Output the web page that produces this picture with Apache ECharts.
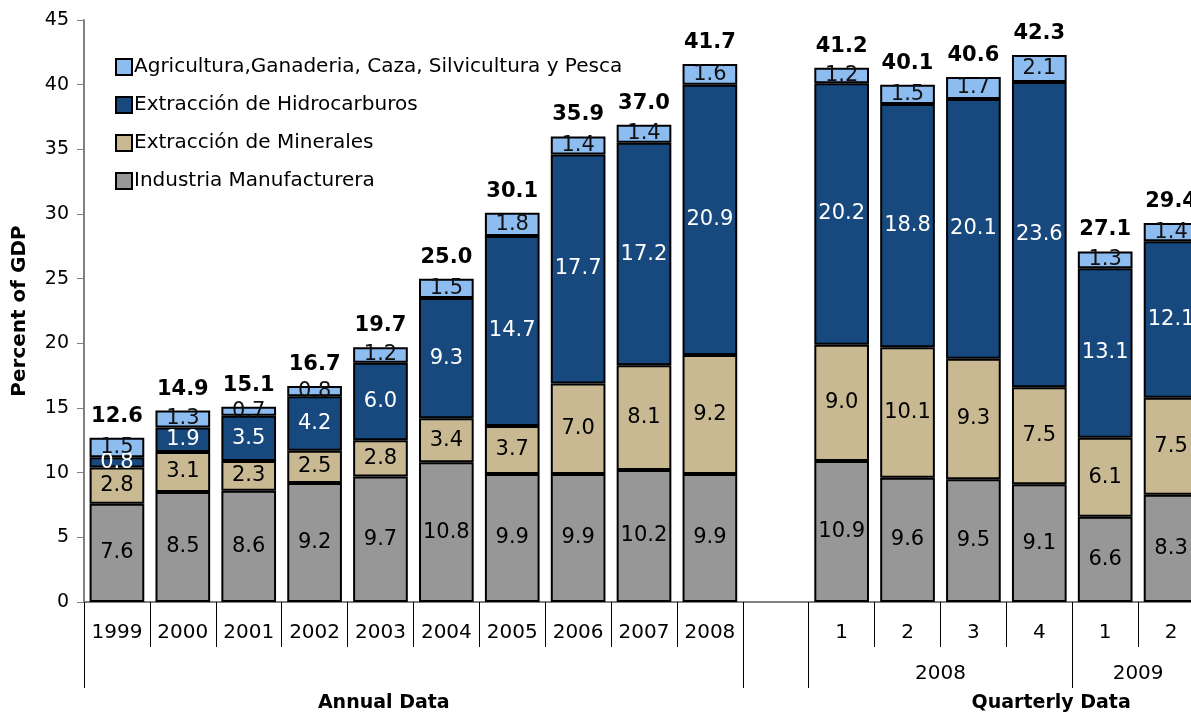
<!DOCTYPE html>
<html>
<head>
<meta charset="utf-8">
<script src="https://cdn.jsdelivr.net/npm/echarts@6/dist/echarts.min.js"></script>
<style>
  html, body { margin: 0; padding: 0; background: #fff; overflow: hidden; }
  /* el grafico original sigue a la derecha del recorte, por eso el div es mas ancho */
  #chart { width: 1212px; height: 713px; }
</style>
</head>
<body>
<div id="chart"></div>
<script>
// categorias: 10 anos, un hueco, 6 trimestres
var categories = ['1999', '2000', '2001', '2002', '2003', '2004', '2005', '2006', '2007', '2008', '',
                  '1', '2', '3', '4', '1', '2'];
var industria = [7.6, 8.5, 8.6, 9.2, 9.7, 10.8, 9.9, 9.9, 10.2, 9.9, '-', 10.9, 9.6, 9.5, 9.1, 6.6, 8.3];
var minerales = [2.8, 3.1, 2.3, 2.5, 2.8, 3.4, 3.7, 7.0, 8.1, 9.2, '-', 9.0, 10.1, 9.3, 7.5, 6.1, 7.5];
var hidrocarburos = [0.8, 1.9, 3.5, 4.2, 6.0, 9.3, 14.7, 17.7, 17.2, 20.9, '-', 20.2, 18.8, 20.1, 23.6, 13.1, 12.1];
var agricultura = [1.5, 1.3, 0.7, 0.8, 1.2, 1.5, 1.8, 1.4, 1.4, 1.6, '-', 1.2, 1.5, 1.7, 2.1, 1.3, 1.4];
var totals = [12.6, 14.9, 15.1, 16.7, 19.7, 25.0, 30.1, 35.9, 37.0, 41.7, '-', 41.2, 40.1, 40.6, 42.3, 27.1, 29.4];
var yTicks = [0, 5, 10, 15, 20, 25, 30, 35, 40, 45];

// segundo nivel del eje x
var yearGroups = [['2008', 11, 15], ['2009', 15, 17]];
var groupEdges = [0, 10, 11, 15, 17];
var sections = [['Annual Data', 4.55], ['Quarterly Data', 14.68]];

var FONT = 'DejaVu Sans';
var names = {
    agr: 'Agricultura,Ganaderia, Caza, Silvicultura y Pesca',
    hid: 'Extracción de Hidrocarburos',
    min: 'Extracción de Minerales',
    ind: 'Industria Manufacturera'
};

function segment(name, data, color, textColor) {
    return {
        name: name,
        type: 'bar',
        stack: 'gdp',
        data: data,
        barCategoryGap: '17%',
        itemStyle: { color: color, borderColor: '#000', borderWidth: 2 },
        label: {
            show: true,
            position: 'inside',
            color: textColor,
            fontFamily: FONT,
            fontSize: 21,
            formatter: function (p) { return p.value.toFixed(1); }
        }
    };
}

var zeros = totals.map(function (t) { return t === '-' ? '-' : 0; });
var centers = yearGroups.map(function (g) { return (g[1] + g[2]) / 2; });

function pick(list, v) {
    for (var i = 0; i < list.length; i++) if (Math.abs(list[i][1] - v) < 1e-6) return list[i][0];
    return '';
}

var myChart = echarts.init(document.getElementById('chart'));
var option = {
    animation: false,
    textStyle: { fontFamily: FONT },
    grid: { left: 84, right: 8, top: 20, bottom: 111, containLabel: false },
    legend: {
        orient: 'vertical',
        left: 115,
        top: 57,
        padding: 0,
        itemWidth: 16,
        itemHeight: 16,
        itemGap: 18,
        icon: 'rect',
        data: [names.agr, names.hid, names.min, names.ind],
        textStyle: { fontFamily: FONT, fontSize: 20, color: '#000', padding: [0, 0, 0, -3] }
    },
    xAxis: [{
        type: 'category',
        data: categories,
        position: 'bottom',
        axisLine: { lineStyle: { color: '#808080', width: 2 } },
        axisTick: { show: true, interval: 0, length: 45, lineStyle: { color: '#000', width: 1 } },
        axisLabel: { interval: 0, margin: 21, color: '#000', fontFamily: FONT, fontSize: 20 }
    }, {
        type: 'value',
        min: 0,
        max: categories.length,
        position: 'bottom',
        offset: 0,
        axisLine: { show: false },
        splitLine: { show: false },
        axisTick: { show: true, customValues: groupEdges, length: 86, lineStyle: { color: '#000', width: 1 } },
        axisLabel: {
            customValues: centers,
            margin: 62,
            color: '#000',
            fontFamily: FONT,
            fontSize: 20,
            formatter: function (v) {
                for (var i = 0; i < centers.length; i++) if (Math.abs(centers[i] - v) < 1e-6) return yearGroups[i][0];
                return '';
            }
        }
    }, {
        type: 'value',
        min: 0,
        max: categories.length,
        position: 'bottom',
        offset: 0,
        axisLine: { show: false },
        splitLine: { show: false },
        axisTick: { show: false },
        axisLabel: {
            customValues: sections.map(function (s) { return s[1]; }),
            margin: 92,
            color: '#000',
            fontFamily: FONT,
            fontSize: 19,
            fontWeight: 'bold',
            formatter: function (v) { return pick(sections, v); }
        }
    }],
    yAxis: {
        type: 'value',
        min: yTicks[0],
        max: yTicks[yTicks.length - 1],
        interval: 5,
        name: 'Percent of GDP',
        nameLocation: 'middle',
        nameGap: 54,
        nameTextStyle: { fontFamily: FONT, fontSize: 20, fontWeight: 'bold', color: '#000' },
        axisLine: { show: true, lineStyle: { color: '#808080', width: 2 } },
        axisTick: { show: true, length: 7, lineStyle: { color: '#808080' } },
        splitLine: { show: false },
        axisLabel: { color: '#000', fontFamily: FONT, fontSize: 19, margin: 15 }
    },
    series: [
        segment(names.ind, industria, '#979797', '#000'),
        segment(names.min, minerales, '#c9b992', '#000'),
        segment(names.hid, hidrocarburos, '#17497e', '#fff'),
        segment(names.agr, agricultura, '#8dbcf0', '#111'),
        {
            name: 'Total',
            type: 'bar',
            stack: 'gdp',
            data: zeros,
            itemStyle: { color: 'rgba(0,0,0,0)', borderWidth: 0 },
            label: {
                show: true,
                position: 'top',
                distance: 11,
                color: '#000',
                fontFamily: FONT,
                fontSize: 21,
                fontWeight: 'bold',
                formatter: function (p) { return totals[p.dataIndex].toFixed(1); }
            }
        }
    ]
};
option && myChart.setOption(option);
</script>
</body>
</html>
